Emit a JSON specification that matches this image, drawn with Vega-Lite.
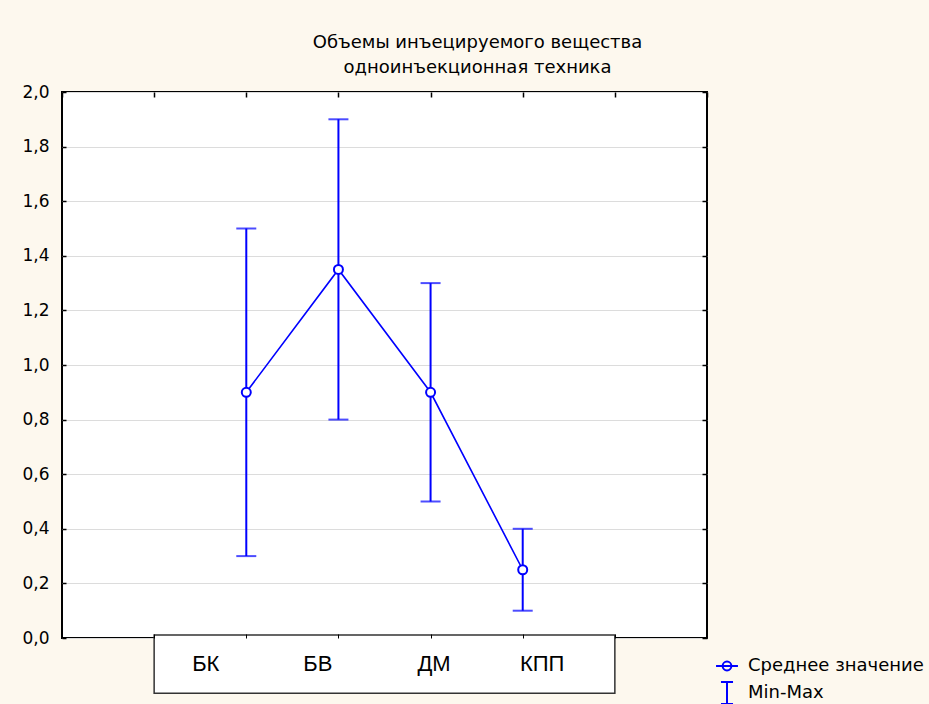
{
  "$schema": "https://vega.github.io/schema/vega-lite/v6.json",
  "autosize": {"type": "none"},
  "width": 645,
  "height": 546,
  "padding": {"left": 62, "top": 92, "right": 222, "bottom": 66},
  "background": "#fdf8ee",
  "config": {
    "font": "DejaVu Sans",
    "view": {"fill": "white", "stroke": "black", "strokeWidth": 2},
    "axis": {"labelFont": "DejaVu Sans", "labelColor": "black", "tickColor": "black", "title": null, "minExtent": 0}
  },
  "title": {
    "text": ["Объемы инъецируемого вещества", "одноинъекционная техника"],
    "fontSize": 18,
    "fontWeight": "normal",
    "font": "DejaVu Sans",
    "color": "black",
    "anchor": "middle",
    "dx": 93,
    "offset": 6,
    "lineHeight": 25
  },
  "data": {
    "values": [
      {"group": "БК", "mean": 0.9, "min": 0.3, "max": 1.5},
      {"group": "БВ", "mean": 1.35, "min": 0.8, "max": 1.9},
      {"group": "ДМ", "mean": 0.9, "min": 0.5, "max": 1.3},
      {"group": "КПП", "mean": 0.25, "min": 0.1, "max": 0.4}
    ]
  },
  "resolve": {"axis": {"x": "independent", "y": "independent"}},
  "layer": [
    {
      "data": {"values": [{}]},
      "mark": {"type": "rect", "fill": "white", "stroke": "#333333", "strokeWidth": 1.5, "clip": false},
      "encoding": {
        "x": {"datum": "_1", "type": "nominal", "axis": null},
        "x2": {"datum": "_6"},
        "y": {"datum": 0.011, "type": "quantitative", "axis": null},
        "y2": {"datum": -0.202}
      }
    },
    {
      "mark": {"type": "rule", "color": "#0000ff", "strokeWidth": 2},
      "encoding": {
        "x": {"field": "group", "type": "nominal", "axis": null},
        "y": {"field": "min", "type": "quantitative", "axis": null},
        "y2": {"field": "max"}
      }
    },
    {
      "mark": {"type": "tick", "color": "#0000ff", "size": 20, "thickness": 2},
      "encoding": {
        "x": {"field": "group", "type": "nominal", "axis": null},
        "y": {"field": "min", "type": "quantitative", "axis": null}
      }
    },
    {
      "mark": {"type": "tick", "color": "#0000ff", "size": 20, "thickness": 2},
      "encoding": {
        "x": {"field": "group", "type": "nominal", "axis": null},
        "y": {"field": "max", "type": "quantitative", "axis": null}
      }
    },
    {
      "mark": {"type": "line", "color": "#0000ff", "strokeWidth": 1.6},
      "encoding": {
        "x": {"field": "group", "type": "nominal",
          "axis": {"orient": "top", "labels": false, "domain": false, "tickSize": -5, "tickWidth": 1.5, "grid": false}},
        "y": {"field": "mean", "type": "quantitative",
          "axis": {"orient": "right", "labels": false, "domain": false, "tickSize": -5, "tickWidth": 1.5, "grid": false, "values": [0, 0.2, 0.4, 0.6, 0.8, 1, 1.2, 1.4, 1.6, 1.8, 2]}}
      }
    },
    {
      "mark": {"type": "point", "shape": "circle", "filled": true, "fill": "white", "stroke": "#0000ff", "strokeWidth": 2, "size": 81, "opacity": 1},
      "encoding": {
        "x": {
          "field": "group", "type": "nominal",
          "scale": {"type": "point", "domain": ["_0", "_1", "БК", "БВ", "ДМ", "КПП", "_6", "_7"], "padding": 0},
          "axis": {"orient": "bottom", "zindex": 1, "domain": false, "tickSize": -4, "tickWidth": 1, "labelFontSize": 22, "labelFont": "Liberation Sans", "labelAngle": 0, "labelPadding": 19,
            "labelOffset": {"expr": "datum.value == 'БК' ? -41 : datum.value == 'БВ' ? -21 : datum.value == 'ДМ' ? 3 : 19"},
            "labelExpr": "indexof(datum.value, '_') == 0 ? '' : datum.value", "grid": false}
        },
        "y": {
          "field": "mean", "type": "quantitative",
          "scale": {"domain": [0, 2], "nice": false, "zero": false},
          "axis": {"orient": "left", "domain": false, "tickSize": -4, "tickWidth": 1.5, "labelFontSize": 17, "labelPadding": 17, "grid": true, "gridColor": "#dcdcdc", "gridWidth": 1, "values": [0, 0.2, 0.4, 0.6, 0.8, 1, 1.2, 1.4, 1.6, 1.8, 2], "labelExpr": "replace(format(datum.value, '.1f'), '.', ',')"}
        }
      }
    },
    {
      "mark": {"type": "point", "opacity": 0},
      "encoding": {
        "x": {"field": "group", "type": "nominal", "axis": null},
        "y": {"field": "mean", "type": "quantitative", "axis": null},
        "shape": {
          "datum": "Среднее значение",
          "scale": {
            "domain": ["Среднее значение", "Min-Max"],
            "range": ["M-1,0H1M0.4,0A0.4,0.4 0 1,1 -0.4,0A0.4,0.4 0 1,1 0.4,0Z", "M-0.55,-1H0.55M0,-1V1M-0.55,1H0.55"]
          },
          "legend": {
            "orient": "none", "legendX": 653, "legendY": 562, "title": null,
            "symbolSize": 480, "symbolStrokeColor": "#0000ff", "symbolFillColor": "white", "symbolStrokeWidth": 2, "symbolOpacity": 1,
            "labelFontSize": 18, "labelFont": "DejaVu Sans", "labelColor": "black", "labelOffset": 9, "labelLimit": 500, "rowPadding": 3, "padding": 0,
            "encode": {"symbols": {"update": {"stroke": {"value": "#0000ff"}, "fill": {"value": "white"}, "strokeWidth": {"value": 2}, "opacity": {"value": 1}, "strokeOpacity": {"value": 1}, "size": {"value": 480}}}}
          }
        }
      }
    }
  ]
}
